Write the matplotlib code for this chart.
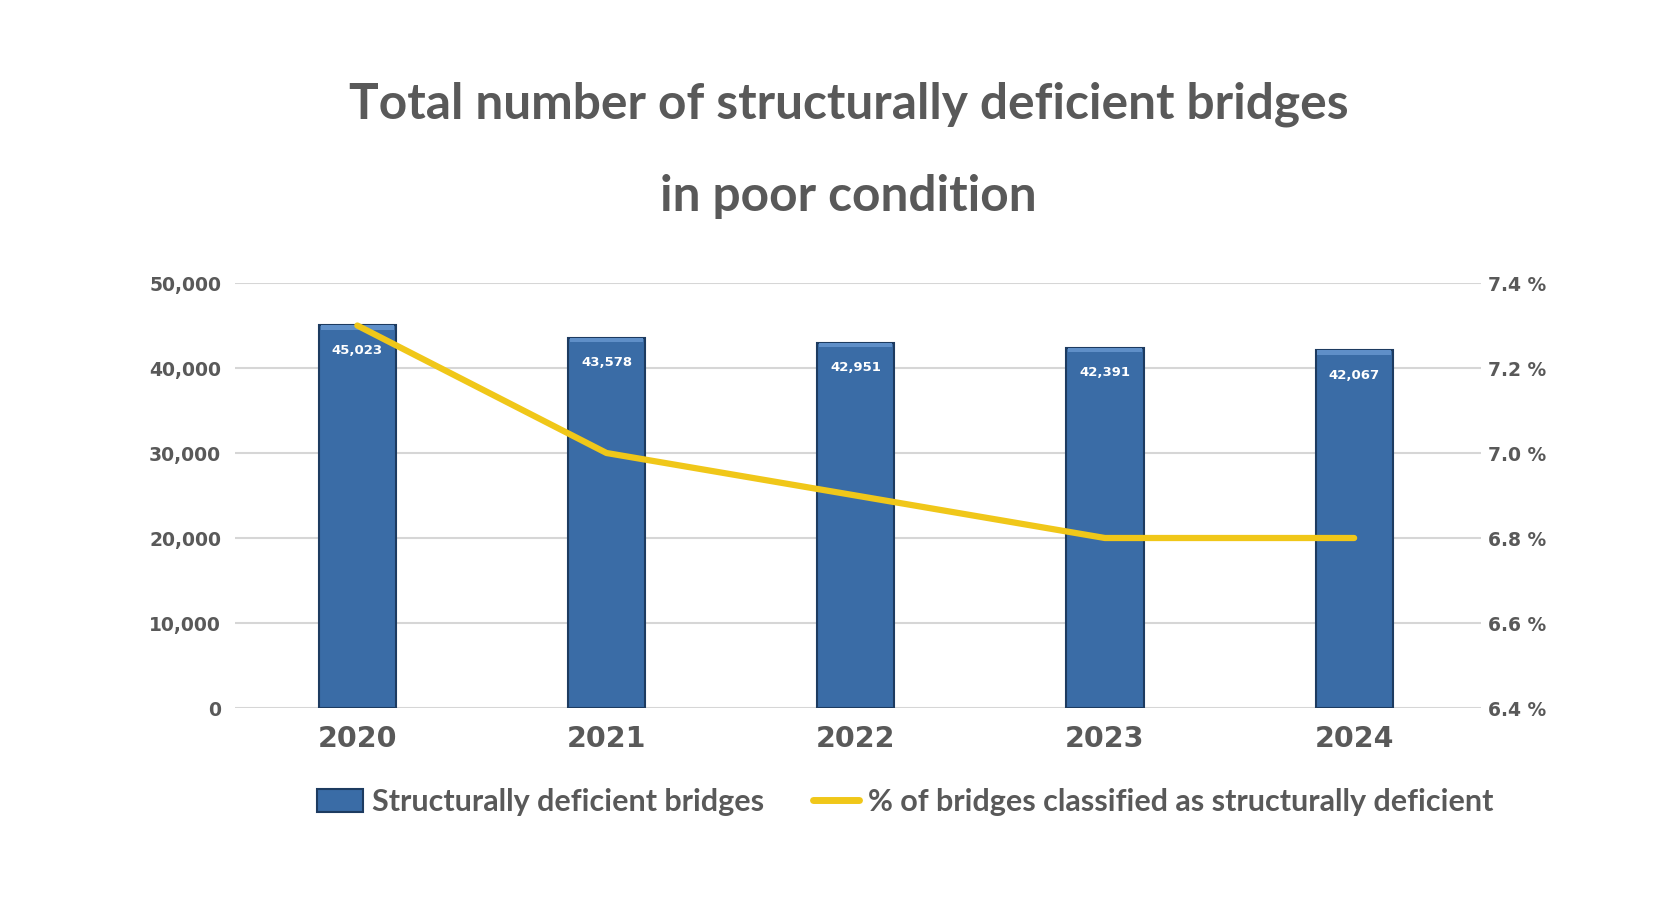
import matplotlib.pyplot as plt
from matplotlib.patches import Patch
from matplotlib.lines import Line2D
from matplotlib.ticker import FuncFormatter

# data
years = ['2020', '2021', '2022', '2023', '2024']
bridges = [45023, 43578, 42951, 42391, 42067]
pct_deficient = [7.3, 7.0, 6.9, 6.8, 6.8]

GRAY = '#595959'
BAR = '#3a6ca6'
BAR_TOP = '#5f8fc8'
BAR_EDGE = '#1d3b60'
YELLOW = '#f0c719'
TICKFONT = 'DejaVu Sans'

fig = plt.figure(figsize=(16.8, 9.01), dpi=100)
ax = fig.add_axes([0.140, 0.2142, 0.7417, 0.4717])
ax2 = ax.twinx()

x = list(range(len(years)))
ax.bar(x, bridges, width=0.31, color=BAR, edgecolor=BAR_EDGE, linewidth=1.5, zorder=2)
# light bevel strip at the top of each bar
bevel = 500
ax.bar(x, [bevel] * len(x), bottom=[v - bevel for v in bridges], width=0.295,
       color=BAR_TOP, linewidth=0, zorder=3)

# labels inside the top of each bar
for xi, v in zip(x, bridges):
    ax.annotate(f'{v:,}', (xi, v), xytext=(0, -18), textcoords='offset points',
                ha='center', va='center', color='white', fontsize=9.5,
                fontweight='bold', family=TICKFONT, zorder=4)

ax2.plot(x, pct_deficient, color=YELLOW, lw=4.5, solid_capstyle='round', zorder=5)

ax.set_xlim(-0.49, 4.51)
ax.set_ylim(0, 50000)
ax.set_yticks(range(0, 50001, 10000))
ax.yaxis.set_major_formatter(FuncFormatter(lambda v, p: f'{int(v):,}'))
ax2.set_ylim(6.4, 7.4)
ax2.set_yticks([6.4, 6.6, 6.8, 7.0, 7.2, 7.4])
ax2.yaxis.set_major_formatter(FuncFormatter(lambda v, p: f'{v:.1f} %'))

ax.grid(axis='y', color='#d6d6d6', lw=1.5, zorder=0)
ax.set_axisbelow(True)
for a in (ax, ax2):
    for s in a.spines.values():
        s.set_visible(False)
    a.tick_params(length=0, colors=GRAY)

ax.set_xticks(x)
ax.set_xticklabels(years)
ax.tick_params(axis='x', pad=12, labelsize=20.5)
ax.tick_params(axis='y', pad=10, labelsize=13.5)
ax2.tick_params(axis='y', pad=5, labelsize=13.5)
for lab in ax.get_xticklabels() + ax.get_yticklabels() + ax2.get_yticklabels():
    lab.set_fontfamily(TICKFONT)
    lab.set_fontweight('bold')
    lab.set_color(GRAY)

fig.text(0.505, 1 - 104 / 901, 'Total number of structurally deficient bridges',
         ha='center', va='center', fontsize=35.7, fontweight='bold', family='Lato', color=GRAY)
fig.text(0.505, 1 - 196 / 901, 'in poor condition',
         ha='center', va='center', fontsize=35.7, fontweight='bold', family='Lato', color=GRAY)

handles = [Patch(facecolor=BAR, edgecolor=BAR_EDGE, linewidth=1.5),
           Line2D([0], [0], color=YELLOW, lw=5, solid_capstyle='round')]
labels = ['Structurally deficient bridges', '% of bridges classified as structurally deficient']
leg = fig.legend(handles, labels, loc='center', bbox_to_anchor=(0.539, 0.110), ncol=2,
                 frameon=False, handlelength=1.5, handleheight=0.8, handletextpad=0.3,
                 columnspacing=1.6, prop={'family': 'Lato', 'weight': 'bold', 'size': 22})
for t in leg.get_texts():
    t.set_color(GRAY)

fig.savefig('out.png', dpi=100)
